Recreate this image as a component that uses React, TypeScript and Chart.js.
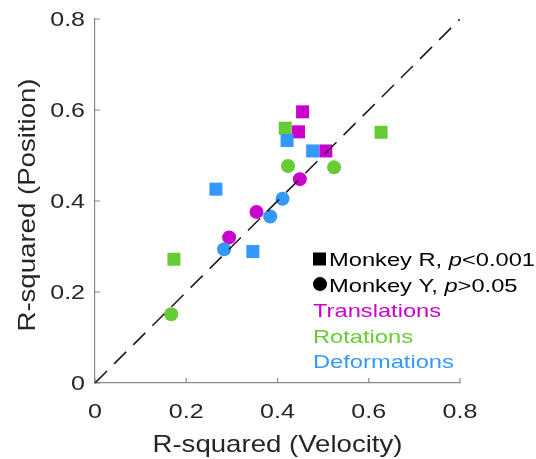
import { useEffect, useRef } from "react";
import { Chart, registerables } from "chart.js";

Chart.register(...registerables);

// Axis ticks (same on both axes)
const AXIS_TICKS = [0, 0.2, 0.4, 0.6, 0.8];
const AXIS_TICK_LABELS = ["0", "0.2", "0.4", "0.6", "0.8"];

// Monkey R (squares): R-squared for velocity (x) and position (y)
const R_TRANSLATIONS_VEL = [0.455, 0.446, 0.506];
const R_TRANSLATIONS_POS = [0.596, 0.552, 0.51];
const R_ROTATIONS_VEL = [0.417, 0.627, 0.173];
const R_ROTATIONS_POS = [0.56, 0.551, 0.272];
const R_DEFORMATIONS_VEL = [0.421, 0.477, 0.265, 0.346];
const R_DEFORMATIONS_POS = [0.533, 0.51, 0.426, 0.289];

// Monkey Y (circles)
const Y_TRANSLATIONS_VEL = [0.449, 0.354, 0.294];
const Y_TRANSLATIONS_POS = [0.448, 0.376, 0.32];
const Y_ROTATIONS_VEL = [0.423, 0.524, 0.167];
const Y_ROTATIONS_POS = [0.477, 0.474, 0.151];
const Y_DEFORMATIONS_VEL = [0.411, 0.384, 0.283];
const Y_DEFORMATIONS_POS = [0.405, 0.366, 0.294];

// Unity line
const UNITY_LINE = [0, 0.8];

const MAGENTA = "#CC00CC";
const GREEN = "#66CC33";
const BLUE = "#3399FF";
const TEXT = "#262626";
const AXIS = "#8a8a8a";
const FONT = '"Liberation Sans", Arial, Helvetica, sans-serif';

type Seg = { text: string; italic?: boolean };

function pts(xs: number[], ys: number[]) {
  return xs.map((x, i) => ({ x, y: ys[i] }));
}

// Draws text widened along its own direction
function drawText(
  ctx: CanvasRenderingContext2D,
  segs: Seg[],
  x: number,
  y: number,
  size: number,
  sx: number,
  align: "left" | "center" | "right",
  color: string,
  rotate = 0
) {
  ctx.save();
  ctx.translate(x, y);
  if (rotate) ctx.rotate(rotate);
  ctx.scale(sx, 1);
  ctx.fillStyle = color;
  ctx.textBaseline = "alphabetic";
  ctx.textAlign = "left";
  const fontOf = (s: Seg) => `${s.italic ? "italic " : ""}${size}px ${FONT}`;
  let total = 0;
  for (const s of segs) {
    ctx.font = fontOf(s);
    total += ctx.measureText(s.text).width;
  }
  let cx = align === "center" ? -total / 2 : align === "right" ? -total : 0;
  for (const s of segs) {
    ctx.font = fontOf(s);
    ctx.fillText(s.text, cx, 0);
    cx += ctx.measureText(s.text).width;
  }
  ctx.restore();
}

const axisDecor = {
  id: "axisDecor",
  beforeDatasetsDraw(chart: any) {
    const ctx = chart.ctx as CanvasRenderingContext2D;
    const xs = chart.scales.x;
    const ys = chart.scales.y;
    const area = chart.chartArea;
    ctx.save();
    ctx.strokeStyle = AXIS;
    ctx.lineWidth = 1.2;
    ctx.beginPath();
    for (const v of AXIS_TICKS) {
      const px = xs.getPixelForValue(v);
      ctx.moveTo(px, area.bottom);
      ctx.lineTo(px, area.bottom - 5);
      const py = ys.getPixelForValue(v);
      ctx.moveTo(area.left, py);
      ctx.lineTo(area.left + 5, py);
    }
    ctx.stroke();
    ctx.restore();
  },
  afterDraw(chart: any) {
    const ctx = chart.ctx as CanvasRenderingContext2D;
    const xs = chart.scales.x;
    const ys = chart.scales.y;
    const area = chart.chartArea;

    // Tick labels
    AXIS_TICKS.forEach((v, i) => {
      drawText(ctx, [{ text: AXIS_TICK_LABELS[i] }], xs.getPixelForValue(v), area.bottom + 35, 20, 1.25, "center", TEXT);
      drawText(ctx, [{ text: AXIS_TICK_LABELS[i] }], area.left - 10, ys.getPixelForValue(v) + 7, 20, 1.25, "right", TEXT);
    });

    // Axis titles
    drawText(ctx, [{ text: "R-squared (Velocity)" }], (area.left + area.right) / 2, 452, 24, 1.15, "center", TEXT);
    drawText(ctx, [{ text: "R-squared (Position)" }], 35, 205, 24, 1.15, "center", TEXT, -Math.PI / 2);

    // Legend
    const lx = 313;
    const tx = 329;
    const step = 25.6;
    const b0 = 266;
    ctx.save();
    ctx.fillStyle = "#000";
    ctx.fillRect(lx, b0 - 13.5, 13, 13);
    ctx.beginPath();
    ctx.arc(lx + 7, b0 + step - 7.5, 7, 0, Math.PI * 2);
    ctx.fill();
    ctx.restore();
    const ls = 18.5;
    const lsx = 1.28;
    drawText(ctx, [{ text: "Monkey R, " }, { text: "p", italic: true }, { text: "<0.001" }], tx, b0, ls, lsx, "left", "#000");
    drawText(ctx, [{ text: "Monkey Y, " }, { text: "p", italic: true }, { text: ">0.05" }], tx, b0 + step, ls, lsx, "left", "#000");
    drawText(ctx, [{ text: "Translations" }], lx, b0 + step * 2, ls, lsx, "left", MAGENTA);
    drawText(ctx, [{ text: "Rotations" }], lx, b0 + step * 3, ls, lsx, "left", GREEN);
    drawText(ctx, [{ text: "Deformations" }], lx, b0 + step * 4, ls, lsx, "left", BLUE);
  },
};

function marker(label: string, data: { x: number; y: number }[], color: string, square: boolean, order: number) {
  return {
    type: "scatter" as const,
    label,
    data,
    order,
    backgroundColor: color,
    borderColor: color,
    borderWidth: 0,
    pointStyle: square ? "rect" : "circle",
    pointRadius: square ? 9.2 : 7,
    pointHoverRadius: square ? 9.2 : 7,
  };
}

export default function App() {
  const ref = useRef<HTMLCanvasElement | null>(null);

  useEffect(() => {
    if (!ref.current) return;
    const axisCommon = {
      type: "linear" as const,
      min: 0,
      max: 0.8,
      ticks: { display: false, stepSize: 0.2 },
      grid: { display: false, drawTicks: false },
      border: { display: true, color: AXIS, width: 1.2 },
      title: { display: false },
    };
    const chart = new Chart(ref.current, {
      type: "scatter",
      data: {
        datasets: [
          {
            type: "line" as const,
            label: "unity",
            data: pts(UNITY_LINE, UNITY_LINE),
            order: 0,
            borderColor: "#1e1e1e",
            borderWidth: 1.6,
            borderDash: [17, 10],
            pointRadius: 0,
            fill: false,
          },
          marker("Deformations R", pts(R_DEFORMATIONS_VEL, R_DEFORMATIONS_POS), BLUE, true, 1),
          marker("Deformations Y", pts(Y_DEFORMATIONS_VEL, Y_DEFORMATIONS_POS), BLUE, false, 1),
          marker("Rotations R", pts(R_ROTATIONS_VEL, R_ROTATIONS_POS), GREEN, true, 2),
          marker("Rotations Y", pts(Y_ROTATIONS_VEL, Y_ROTATIONS_POS), GREEN, false, 2),
          marker("Translations R", pts(R_TRANSLATIONS_VEL, R_TRANSLATIONS_POS), MAGENTA, true, 3),
          marker("Translations Y", pts(Y_TRANSLATIONS_VEL, Y_TRANSLATIONS_POS), MAGENTA, false, 3),
        ] as any,
      },
      options: {
        responsive: false,
        animation: false,
        devicePixelRatio: 1,
        events: [],
        layout: { padding: { left: 0, top: 19, right: 76, bottom: 0 } },
        plugins: { legend: { display: false }, tooltip: { enabled: false } },
        scales: {
          x: {
            ...axisCommon,
            position: "bottom",
            afterFit: (s: any) => {
              s.height = 76;
            },
          },
          y: {
            ...axisCommon,
            position: "left",
            afterFit: (s: any) => {
              s.width = 95;
            },
          },
        },
      } as any,
      plugins: [axisDecor],
    });
    return () => chart.destroy();
  }, []);

  return (
    <div style={{ position: "fixed", left: 0, top: 0, width: 536, height: 459, background: "#fff" }}>
      <canvas ref={ref} width={536} height={459} style={{ display: "block" }} />
    </div>
  );
}
